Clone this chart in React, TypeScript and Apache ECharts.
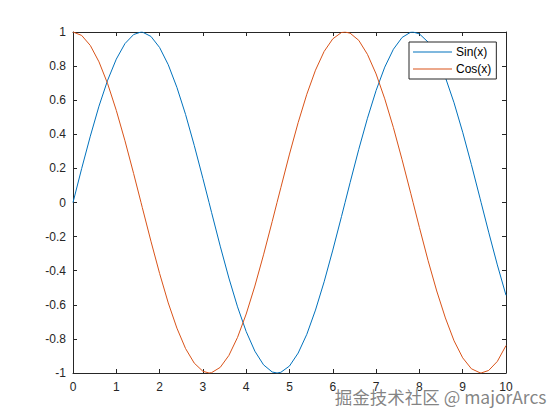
import React, { useEffect, useRef } from "react";
import * as echarts from "echarts";

const xValues = [
  0, 0.2, 0.4, 0.6, 0.8, 1.0, 1.2, 1.4, 1.571, 1.6, 1.8, 2.0, 2.2, 2.4, 2.6, 2.8, 3.0, 3.142, 3.2,
  3.4, 3.6, 3.8, 4.0, 4.2, 4.4, 4.6, 4.712, 4.8, 5.0, 5.2, 5.4, 5.6, 5.8, 6.0, 6.2, 6.283, 6.4, 6.6,
  6.8, 7.0, 7.2, 7.4, 7.6, 7.8, 7.854, 8.0, 8.2, 8.4, 8.6, 8.8, 9.0, 9.2, 9.4, 9.425, 9.6, 9.8, 10.0,
];

const sinValues = [
  0, 0.199, 0.389, 0.565, 0.717, 0.841, 0.932, 0.985, 1.0, 1.0, 0.974, 0.909, 0.808, 0.675, 0.516,
  0.335, 0.141, 0.0, -0.058, -0.256, -0.443, -0.612, -0.757, -0.872, -0.952, -0.994, -1.0, -0.996,
  -0.959, -0.883, -0.773, -0.631, -0.465, -0.279, -0.083, 0.0, 0.117, 0.312, 0.494, 0.657, 0.794,
  0.899, 0.968, 0.999, 1.0, 0.989, 0.941, 0.855, 0.734, 0.585, 0.412, 0.223, 0.025, 0.0, -0.174,
  -0.366, -0.544,
];

const cosValues = [
  1, 0.98, 0.921, 0.825, 0.697, 0.54, 0.362, 0.17, 0.0, -0.029, -0.227, -0.416, -0.589, -0.737,
  -0.857, -0.942, -0.99, -1.0, -0.998, -0.967, -0.897, -0.791, -0.654, -0.49, -0.307, -0.112, 0.0,
  0.087, 0.284, 0.469, 0.635, 0.776, 0.886, 0.96, 0.997, 1.0, 0.993, 0.951, 0.869, 0.754, 0.608,
  0.439, 0.251, 0.054, 0.0, -0.146, -0.34, -0.519, -0.677, -0.811, -0.911, -0.975, -0.999, -1.0,
  -0.985, -0.932, -0.839,
];

const seriesNames = ["Sin(x)", "Cos(x)"];
const watermark = "掘金技术社区 @ majorArcs";

const AXIS_COLOR = "#262626";
const FONT = "'Liberation Sans', Arial, sans-serif";

export default function App() {
  const ref = useRef<HTMLDivElement>(null);

  useEffect(() => {
    if (!ref.current) return;
    const chart = echarts.init(ref.current, null, { renderer: "svg" });
    const axisCommon = {
      type: "value" as const,
      axisLine: { show: true, onZero: false, lineStyle: { color: AXIS_COLOR, width: 1 } },
      axisTick: { show: true, inside: true, length: 4, lineStyle: { color: AXIS_COLOR, width: 1 } },
      splitLine: { show: false },
    };
    chart.setOption({
      animation: false,
      backgroundColor: "#ffffff",
      grid: { left: 73, right: 54, top: 32, bottom: 47 },
      xAxis: [
        {
          ...axisCommon,
          min: 0,
          max: 10,
          interval: 1,
          position: "bottom",
          axisLabel: { color: AXIS_COLOR, fontSize: 12, fontFamily: FONT, margin: 8 },
        },
        {
          ...axisCommon,
          min: 0,
          max: 10,
          interval: 1,
          position: "top",
          axisLabel: { show: false },
        },
      ],
      yAxis: [
        {
          ...axisCommon,
          min: -1,
          max: 1,
          interval: 0.2,
          position: "left",
          axisLabel: { color: AXIS_COLOR, fontSize: 12, fontFamily: FONT, margin: 7 },
        },
        {
          ...axisCommon,
          min: -1,
          max: 1,
          interval: 0.2,
          position: "right",
          axisLabel: { show: false },
        },
      ],
      legend: {
        orient: "vertical",
        left: 409,
        top: 42,
        icon: "rect",
        itemWidth: 39,
        itemHeight: 1,
        itemGap: 3,
        padding: [3, 5, 3, 4],
        borderColor: AXIS_COLOR,
        borderWidth: 1,
        backgroundColor: "#ffffff",
        textStyle: { color: "#000000", fontSize: 12, fontFamily: FONT, lineHeight: 14, padding: [0, 0, 0, -1] },
        data: seriesNames,
      },
      series: [
        {
          name: seriesNames[0],
          type: "line",
          symbol: "none",
          color: "#0072BD",
          itemStyle: { color: "#0072BD" },
          lineStyle: { width: 1, color: "#0072BD" },
          data: xValues.map((x, i) => [x, sinValues[i]]),
        },
        {
          name: seriesNames[1],
          type: "line",
          symbol: "none",
          color: "#D95319",
          itemStyle: { color: "#D95319" },
          lineStyle: { width: 1, color: "#D95319" },
          data: xValues.map((x, i) => [x, cosValues[i]]),
        },
      ],
      graphic: [
        {
          type: "text",
          right: 13,
          top: 387,
          z: 100,
          style: {
            text: watermark,
            fontSize: 17.5,
            fontFamily: "'Noto Sans CJK SC', 'Noto Sans', sans-serif",
            fill: "rgba(110,110,110,0.85)",
            stroke: "rgba(255,255,255,0.9)",
            lineWidth: 1,
          },
        },
      ],
    });
    return () => chart.dispose();
  }, []);

  return <div ref={ref} style={{ width: 560, height: 420, margin: -8 }} />;
}
